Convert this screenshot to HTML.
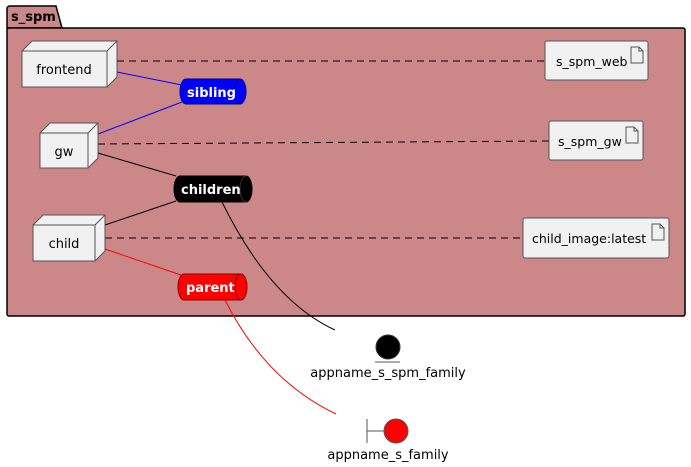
<!DOCTYPE html>
<html><head><meta charset="utf-8"><style>body{margin:0;background:#fff}svg{display:block}text{font-family:"DejaVu Sans","Liberation Sans",sans-serif}</style></head><body>
<svg width="691" height="467" viewBox="0 0 691 467" xmlns="http://www.w3.org/2000/svg">
<path d="M7,28 V9 Q7,6 10,6 H56 L62,28 Z" fill="#CC8888" stroke="#000" stroke-width="1.5"/>
<rect x="7" y="28" width="678" height="288" rx="2" fill="#CC8888" stroke="#000" stroke-width="1.5"/>
<text x="11" y="21" font-size="13" font-weight="bold">s_spm</text>
<g fill="none" stroke-width="1">
<line x1="117" y1="61" x2="545" y2="61" stroke="#000" stroke-dasharray="7,5"/>
<line x1="98" y1="144" x2="549" y2="141" stroke="#000" stroke-dasharray="7,5"/>
<line x1="105" y1="238" x2="523" y2="238" stroke="#000" stroke-dasharray="7,5"/>
<line x1="117" y1="72" x2="182" y2="85" stroke="#0000ff"/>
<line x1="98" y1="134" x2="182" y2="102" stroke="#0000ff"/>
<line x1="98" y1="153" x2="176" y2="176" stroke="#000"/>
<line x1="105" y1="225" x2="176" y2="201" stroke="#000"/>
<line x1="105" y1="249" x2="181" y2="275" stroke="#ff0000"/>
<path d="M222,202 Q270,300 335,330" stroke="#000"/>
<path d="M225,300 Q265,380 336,414" stroke="#ff0000"/>
</g>
<g fill="#F1F1F1" stroke="#555" stroke-width="1">
<path d="M22,51 L32,41 H117 V77 L107,87 M107,51 L117,41"/>
<rect x="22" y="51" width="85" height="36"/>
<path d="M40,133 L50,123 H98 V158 L88,168 M88,133 L98,123"/>
<rect x="40" y="133" width="48" height="35"/>
<path d="M33,225 L43,215 H105 V251 L95,261 M95,225 L105,215"/>
<rect x="33" y="225" width="62" height="36"/>
<rect x="545" y="41" width="103" height="39" rx="2"/>
<rect x="549" y="121" width="94" height="39" rx="2"/>
<rect x="523" y="218" width="146" height="40" rx="2"/>
</g>
<g fill="none" stroke="#555">
<path d="M631,47 h8 l4,4 v12 h-12 z M639,47 v4 h4"/>
<path d="M626,127 h8 l4,4 v12 h-12 z M634,127 v4 h4"/>
<path d="M652,224 h8 l4,4 v12 h-12 z M660,224 v4 h4"/>
</g>
<g font-size="13" fill="#000">
<text x="64" y="74" text-anchor="middle">frontend</text>
<text x="64" y="156" text-anchor="middle">gw</text>
<text x="64" y="248" text-anchor="middle">child</text>
<text x="556" y="66" font-size="12.5">s_spm_web</text>
<text x="558" y="146" font-size="12.5">s_spm_gw</text>
<text x="532" y="243" font-size="12.5">child_image:latest</text>
</g>
<g stroke-width="1">
<path d="M186,79 H240 A6,12.5 0 0 1 240,104 H186 A6,12.5 0 0 1 186,79 Z" fill="#0000ff" stroke="#00008b"/>
<path d="M240,79 A6,12.5 0 0 0 240,104" fill="none" stroke="#00008b"/>
<path d="M180,176 H246 A6,13 0 0 1 246,202 H180 A6,13 0 0 1 180,176 Z" fill="#000" stroke="#000"/>
<path d="M246,176 A6,13 0 0 0 246,202" fill="none" stroke="#333"/>
<path d="M184,274 H241 A6,13 0 0 1 241,300 H184 A6,13 0 0 1 184,274 Z" fill="#ff0000" stroke="#8b0000"/>
<path d="M241,274 A6,13 0 0 0 241,300" fill="none" stroke="#8b0000"/>
</g>
<g font-size="13" font-weight="bold" fill="#fff">
<text x="187" y="97">sibling</text>
<text x="181" y="194">children</text>
<text x="186" y="292">parent</text>
</g>
<circle cx="388" cy="347" r="12" fill="#000" stroke="#333"/>
<line x1="375" y1="362" x2="400" y2="362" stroke="#555"/>
<text x="388" y="377" font-size="13" text-anchor="middle">appname_s_spm_family</text>
<line x1="367" y1="419" x2="367" y2="443" stroke="#555"/>
<line x1="367" y1="431" x2="384" y2="431" stroke="#555"/>
<circle cx="396" cy="431" r="12" fill="#ff0000" stroke="#555"/>
<text x="388" y="459" font-size="13" text-anchor="middle">appname_s_family</text>
</svg>
</body></html>
